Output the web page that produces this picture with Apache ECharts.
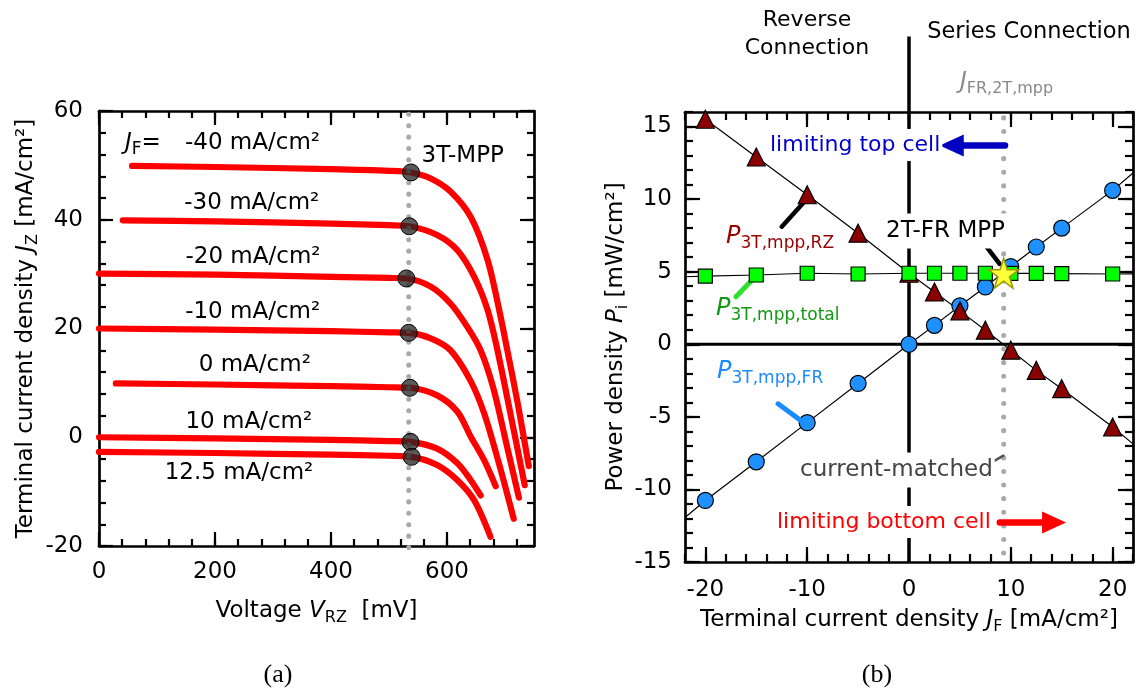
<!DOCTYPE html>
<html><head><meta charset="utf-8">
<script src="https://cdn.jsdelivr.net/npm/echarts@6/dist/echarts.min.js"></script>
<style>html,body{margin:0;padding:0;background:#fff}#c{width:1141px;height:691px}</style>
</head><body><div id="c"></div>
<script>
// ===== Panel (a): J-V curves, V in mV, J_Z in mA/cm² =====
const jfLabels = ['-40 mA/cm²','-30 mA/cm²','-20 mA/cm²','-10 mA/cm²','0 mA/cm²','10 mA/cm²','12.5 mA/cm²'];
const curveM40 = [[57,49.9],[200,49.7],[400,49.3],[500,49.0],[538,48.7],[572,47.6],[606,45.2],[641,40.5],[670,32.6],[690,23.4],[704,16.0],[722,6.2],[741,-5.3]];
const curveM30 = [[41,39.9],[200,39.7],[400,39.3],[500,39.0],[535,38.8],[583,37.2],[618,34.4],[647,29.5],[670,23.4],[687,16.0],[710,4.0],[734,-8.8]];
const curveM20 = [[0,30.1],[200,29.9],[400,29.5],[500,29.3],[530,29.2],[572,27.7],[606,24.6],[635,20.3],[658,16.0],[680,9.0],[702,-1.0],[724,-11.1]];
const curveM10 = [[0,20.0],[200,19.8],[400,19.5],[500,19.3],[534,19.2],[572,18.2],[606,16.0],[640,10.5],[664,4.4],[690,-5.0],[715,-15.0]];
const curveP0  = [[29,9.9],[200,9.7],[400,9.4],[500,9.2],[536,9.1],[583,7.7],[618,4.7],[641,0.1],[664,-4.2],[684,-9.0]];
const curveP10 = [[0,0.0],[200,-0.2],[400,-0.5],[500,-0.7],[537,-0.85],[583,-2.1],[618,-4.8],[641,-7.9],[658,-10.7]];
const curveP125= [[0,-2.7],[200,-2.9],[400,-3.2],[500,-3.4],[539,-3.6],[583,-5.1],[618,-7.9],[647,-11.6],[675,-18.3]];
const mppV = [538,535,530,534,536,537,539];
const mppJ = [48.7,38.8,29.2,19.2,9.1,-0.85,-3.6];
const mppLine = [[534,59.4],[534,-20.6]];

// ===== Panel (b): power densities vs J_F =====
const jF     = [-20,-15,-10,-5,0,2.5,5,7.5,10,12.5,15,20];
const pRZ    = [15.5,12.9,10.3,7.65,4.89,3.6,2.3,0.97,-0.41,-1.8,-3.06,-5.7];
const pFR    = [-10.76,-8.1,-5.4,-2.7,0,1.3,2.65,3.95,5.35,6.7,8.0,10.6];
const pTotal = [4.70,4.77,4.89,4.84,4.89,4.89,4.89,4.89,4.88,4.88,4.87,4.84];
const rzLineEnd   = [22,-6.86];
const frLineEnds  = [[-22,-11.93],[22,11.8]];
const totLineEnds = [[-22,4.65],[22,4.85]];
const star2T = [9.3,4.89];
const jfr2TLine = [[9.3,15.6],[9.3,-15.1]];
const zeroVLine = [[0,-15],[0,21.2]];
const zeroHLine = [[-22,0],[22,0]];

// tick values
const aXMajor = [0,200,400,600];
const aYMajor = [-20,0,20,40,60];
const bXMajor = [-20,-10,0,10,20];
const bYMajor = [-15,-10,-5,0,5,10,15];
function range(a,b,s){const r=[];for(let v=a;v<=b+1e-9;v+=s)r.push(+v.toFixed(6));return r;}
const aXMinor = range(0,720,40);
const aYMinor = range(-20,60,4);
const bXMinor = range(-22,22,2);
const bYMinor = range(-15,16,1);

const FONT = 'DejaVu Sans';
const zip = (xs,ys)=>xs.map((x,i)=>[x,ys[i]]);

function ax(grid,pos,min,max,ticks,len,line,label,extra){
  const o={type:'value',gridIndex:grid,position:pos,min:min,max:max,
    axisLine:{show:line,onZero:false,lineStyle:{color:'#000',width:2.7}},
    axisTick:{show:true,inside:true,length:len,customValues:ticks,lineStyle:{color:'#000',width:2.2}},
    axisLabel:label?{show:true,customValues:ticks,fontSize:23,fontFamily:FONT,color:'#000',margin:label.margin}:{show:false},
    splitLine:{show:false},minorTick:{show:false},axisPointer:{show:false},silent:true};
  return Object.assign(o,extra||{});
}
function nameRich(){return {
  t:{fontSize:23,fontFamily:FONT,color:'#000',lineHeight:30},
  i:{fontSize:23,fontFamily:FONT,fontStyle:'italic',color:'#000',lineHeight:30},
  s:{fontSize:16,fontFamily:FONT,color:'#000',lineHeight:12,verticalAlign:'bottom'}};}

const xAxis = [
  ax(0,'bottom',0,750,aXMajor,14,true,{margin:15},{name:'{t|Voltage }{i|V}{s|RZ}{t|  [mV]}',nameLocation:'middle',nameGap:50,nameTextStyle:{rich:nameRich()}}),
  ax(0,'bottom',0,750,aXMinor,7,false,null),
  ax(0,'top',0,750,aXMajor,14,true,null),
  ax(0,'top',0,750,aXMinor,7,false,null),
  ax(1,'bottom',-22,22,bXMajor,15,true,{margin:17},{name:'{t|Terminal current density }{i|J}{s|F}{t| [mA/cm²]}',nameLocation:'middle',nameGap:43,nameTextStyle:{rich:nameRich()}}),
  ax(1,'bottom',-22,22,bXMinor,8,false,null),
  ax(1,'top',-22,22,bXMajor,15,true,null),
  ax(1,'top',-22,22,bXMinor,8,false,null)
];
const yAxis = [
  ax(0,'left',-20,60,aYMajor,14,true,{margin:16},{name:'{t|Terminal current density }{i|J}{s|Z}{t| [mA/cm²]}',nameLocation:'middle',nameGap:58,nameTextStyle:{rich:nameRich()}}),
  ax(0,'left',-20,60,aYMinor,7,false,null),
  ax(0,'right',-20,60,aYMajor,14,true,null),
  ax(0,'right',-20,60,aYMinor,7,false,null),
  ax(1,'left',-15,16,bYMajor,15,true,{margin:13},{name:'{t|Power density }{i|P}{s|i}{t| [mW/cm²]}',nameLocation:'middle',nameGap:53,nameTextStyle:{rich:nameRich()}}),
  ax(1,'left',-15,16,bYMinor,8,false,null),
  ax(1,'right',-15,16,bYMajor,15,true,null),
  ax(1,'right',-15,16,bYMinor,8,false,null)
];

const series = [];
[curveM40,curveM30,curveM20,curveM10,curveP0,curveP10,curveP125].forEach((d,i)=>{
  series.push({type:'line',name:jfLabels[i],xAxisIndex:0,yAxisIndex:0,data:d,symbol:'none',smooth:0.3,
    lineStyle:{color:'#ff0000',width:6.2,cap:'round',join:'round'},z:2,silent:true});
});
series.push({type:'line',xAxisIndex:0,yAxisIndex:0,data:mppLine,symbol:'none',clip:false,
  lineStyle:{color:'#a9a9a9',width:5,type:[0.1,11.3],cap:'round'},z:3,silent:true});
series.push({type:'scatter',xAxisIndex:0,yAxisIndex:0,data:zip(mppV,mppJ),symbol:'circle',symbolSize:17,
  itemStyle:{color:'rgba(35,35,35,0.75)',borderColor:'#000',borderWidth:1,opacity:1},z:4,silent:true});

// panel b
series.push({type:'line',xAxisIndex:4,yAxisIndex:4,data:zeroVLine,symbol:'none',clip:false,lineStyle:{color:'#000',width:3.5},z:1,silent:true});
series.push({type:'line',xAxisIndex:4,yAxisIndex:4,data:jfr2TLine,symbol:'none',clip:false,
  lineStyle:{color:'#a9a9a9',width:5,type:[0.1,13.5],cap:'round'},z:1,silent:true});
series.push({type:'line',xAxisIndex:4,yAxisIndex:4,data:zip(jF,pRZ).concat([rzLineEnd]),symbol:'none',lineStyle:{color:'#000',width:1.2},z:2,silent:true});
series.push({type:'line',xAxisIndex:4,yAxisIndex:4,data:[frLineEnds[0]].concat(zip(jF,pFR),[frLineEnds[1]]),symbol:'none',lineStyle:{color:'#000',width:1.2},z:2,silent:true});
series.push({type:'line',xAxisIndex:4,yAxisIndex:4,data:[totLineEnds[0]].concat(zip(jF,pTotal),[totLineEnds[1]]),symbol:'none',lineStyle:{color:'#000',width:1.2},z:2,silent:true});

const ptr = (a,b,color,w)=>[{coord:a,symbol:'none',lineStyle:{color:color,width:w,cap:'round',type:'solid'}},{coord:b,symbol:'none'}];
const arr = (a,b,color,w)=>[{coord:a,symbol:'none',lineStyle:{color:color,width:w,cap:'round',type:'solid'}},{coord:b,symbol:'triangle',symbolSize:[22,24],itemStyle:{color:color}}];
series.push({type:'line',xAxisIndex:4,yAxisIndex:4,data:zeroHLine,symbol:'none',lineStyle:{color:'#000',width:3},z:3,silent:true,
  markLine:{silent:true,animation:false,label:{show:false},symbol:['none','none'],
    data:[
      ptr([-12.5,8.1],[-10.1,9.95],'#000',4.5),
      ptr([-17.0,3.27],[-15.1,4.65],'#2de02d',5),
      ptr([-12.86,-4.1],[-10.4,-5.37],'#1a8cff',5),
      ptr([7.6,6.72],[8.9,5.53],'#000',4.5),
      ptr([7.87,-8.24],[9.27,-7.67],'#555',2.5),
      arr([9.43,13.7],[4.2,13.7],'#0000c0',6.5),
      arr([8.92,-12.28],[14.25,-12.28],'#ff0000',6.5)
    ]}});
series.push({type:'scatter',xAxisIndex:4,yAxisIndex:4,data:zip(jF,pFR),symbol:'circle',symbolSize:16,
  itemStyle:{color:'#1e90ff',borderColor:'#000',borderWidth:1.2,opacity:1},z:4,silent:true});
series.push({type:'scatter',xAxisIndex:4,yAxisIndex:4,data:zip(jF,pRZ),symbol:'triangle',symbolSize:18,
  itemStyle:{color:'#8b0000',borderColor:'#000',borderWidth:1.2,opacity:1},z:5,silent:true});
series.push({type:'scatter',xAxisIndex:4,yAxisIndex:4,data:zip(jF,pTotal),symbol:'rect',symbolSize:14,
  itemStyle:{color:'#00ff00',borderColor:'#000',borderWidth:1.2,opacity:1},z:6,silent:true});
series.push({type:'scatter',xAxisIndex:4,yAxisIndex:4,data:[star2T],
  symbol:'path://M50,0 L61.8,35.1 L98.9,35.1 L68.9,56.8 L80.3,91.9 L50,70.2 L19.7,91.9 L31.1,56.8 L1.1,35.1 L38.2,35.1 Z',
  symbolSize:30,itemStyle:{color:'#ffff3c',borderColor:'#9a9a00',borderWidth:1.5,opacity:1},z:7,silent:true});

// ===== text annotations (layout in px) =====
const labelX = [252.5,251.8,253,252.7,254.8,248.8,239];
const labelY = [143.3,203.3,256.7,311.7,365,421.7,472.7];
function txt(x,y,text,o){
  o=o||{};
  return {type:'text',x:x,y:y,z:100,silent:true,style:Object.assign({text:text,fill:'#000',fontSize:23,fontFamily:FONT,align:'left',verticalAlign:'middle'},o)};
}
function pRich(color,fs){return {
  i:{fontSize:fs||24,fontFamily:FONT,fontStyle:'italic',fill:color,lineHeight:30},
  s:{fontSize:17,fontFamily:FONT,fill:color,lineHeight:12,verticalAlign:'bottom'},
  n:{fontSize:fs||24,fontFamily:FONT,fill:color,lineHeight:30}};}
const graphic = [];
jfLabels.forEach((t,i)=>graphic.push(txt(labelX[i],labelY[i],t,{align:'center'})));
graphic.push(txt(125,143,'{i|J}{s|F}{n|=}',{rich:pRich('#000',23)}));
graphic.push(txt(421.5,156,'3T-MPP'));
graphic.push(txt(807,34,'Reverse\nConnection',{align:'center',fontSize:22,lineHeight:28}));
graphic.push(txt(1029,32,'Series Connection',{align:'center',fontSize:22.5}));
graphic.push(txt(960,82,'{i|J}{s|FR,2T,mpp}',{rich:{i:{fontSize:23,fontFamily:FONT,fontStyle:'italic',fill:'#888',lineHeight:30},s:{fontSize:16,fontFamily:FONT,fill:'#888',lineHeight:12,verticalAlign:'bottom'}}}));
graphic.push(txt(768,145,'limiting top cell',{fill:'#0000cc',fontSize:22,backgroundColor:'#fff',padding:[5,2,5,2]}));
graphic.push(txt(726,237,'{i|P}{s|3T,mpp,RZ}',{rich:pRich('#990000')}));
graphic.push(txt(884,231,'2T-FR MPP',{fontSize:23,backgroundColor:'#fff',padding:[6,2,6,2]}));
graphic.push(txt(716,309,'{i|P}{s|3T,mpp,total}',{rich:pRich('#119911')}));
graphic.push(txt(717,372,'{i|P}{s|3T,mpp,FR}',{rich:pRich('#1a8cff')}));
graphic.push(txt(798,470,'current-matched',{fill:'#444',fontSize:23,backgroundColor:'#fff',padding:[6,2,6,2]}));
graphic.push(txt(775,522,'limiting bottom cell',{fill:'#ff0000',fontSize:22,backgroundColor:'#fff',padding:[5,2,5,2]}));
graphic.push(txt(278,675,'(a)',{align:'center',fontFamily:'Liberation Serif',fontSize:26}));
graphic.push(txt(877,675,'(b)',{align:'center',fontFamily:'Liberation Serif',fontSize:26}));

const chart = echarts.init(document.getElementById('c'),null,{renderer:'canvas'});
chart.setOption({
  animation:false,
  backgroundColor:'#fff',
  textStyle:{fontFamily:FONT},
  grid:[{left:99,top:111,width:435,height:435},{left:685,top:112,width:448,height:450}],
  xAxis:xAxis, yAxis:yAxis, series:series, graphic:graphic
});
</script></body></html>
